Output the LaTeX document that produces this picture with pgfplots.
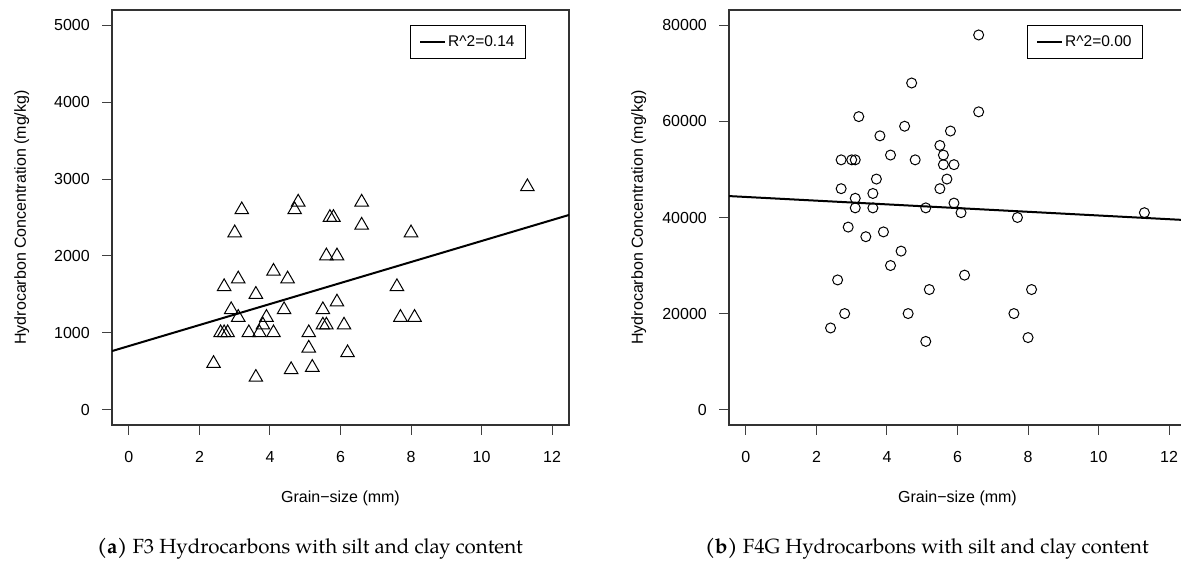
\documentclass[border=0pt]{standalone}
\usepackage{pgfplots}
\pgfplotsset{compat=1.18}
\usepackage{fontspec}
\setmainfont{Liberation Sans}
\newfontfamily\capfont{TeX Gyre Pagella}
\begin{document}
\begin{tikzpicture}
\path[use as bounding box] (0pt,0pt) rectangle (1181pt,562pt);
\pgfplotsset{
  rstyle/.style={
    scale only axis, width=457pt, height=415pt, anchor=south west,
    xmin=-0.48, xmax=12.48,
    xtick={0,2,4,6,8,10,12},
    tick pos=left, tick align=outside, major tick length=10pt,
    axis line style={line width=1.1pt, black!80},
    every tick/.style={line width=1pt, black!75},
    scaled ticks=false,
    /pgf/number format/assume math mode=true,
    tick label style={font=\fontsize{16}{19}\selectfont},
    xticklabel style={inner sep=0pt, anchor=north, yshift=-16pt},
    yticklabel style={inner sep=0pt, anchor=east, xshift=-12pt},
    label style={font=\fontsize{16}{19}\selectfont},
    xlabel={Grain−size (mm)},
    ylabel={Hydrocarbon Concentration (mg/kg)},
    xlabel style={at={(axis description cs:0.5,-0.1759)}, anchor=center},
    ylabel style={at={(axis description cs:-0.1976,0.5)}, anchor=center},
    legend style={at={(axis description cs:0.9059,0.9639)}, anchor=north east,
      draw=black, line width=0.9pt, inner xsep=9pt, inner ysep=8.5pt,
      font=\fontsize{15.5}{18}\selectfont},
    legend image code/.code={\draw[line width=2pt] (0pt,0pt) -- (25pt,0pt);},
    legend cell align=left,
  }
}
\begin{axis}[rstyle, at={(112pt,137pt)},
  ymin=-200, ymax=5200, ytick={0,1000,2000,3000,4000,5000},
  yticklabels={0,1000,2000,3000,4000,5000}]
\addplot[only marks, mark=triangle, mark size=7.8pt, mark options={line width=1pt, black}, forget plot] coordinates {
(2.4,600) (2.6,1000) (2.7,1000) (2.8,1000) (2.7,1600) (2.9,1300) (3.0,2300)
(3.1,1700) (3.1,1200) (3.2,2600) (3.4,1000) (3.6,1500) (3.6,420) (3.7,1000)
(3.8,1100) (3.9,1200) (4.1,1800) (4.1,1000) (4.4,1300) (4.5,1700) (4.6,520)
(4.7,2600) (4.8,2700) (5.1,1000) (5.1,800) (5.2,550) (5.5,1300) (5.5,1100)
(5.6,1100) (5.6,2000) (5.7,2500) (5.8,2500) (5.9,2000) (5.9,1400) (6.1,1100)
(6.2,740) (6.6,2700) (6.6,2400) (7.6,1600) (7.7,1200) (8.0,2300) (8.1,1200)
(11.3,2900)};
\addplot[black, line width=2pt, no marks] coordinates {(-0.48,762) (12.48,2533)};
\addlegendentry{R\^{}2=0.14}
\end{axis}
\begin{axis}[rstyle, at={(729pt,137pt)},
  ymin=-3200, ymax=83200, ytick={0,20000,40000,60000,80000},
  yticklabels={0,20000,40000,60000,80000}]
\addplot[only marks, mark=o, mark size=5pt, mark options={line width=1pt, black}, forget plot] coordinates {
(2.4,17000) (2.6,27000) (2.7,52000) (2.7,46000) (2.8,20000) (2.9,38000)
(3.0,52000) (3.1,52000) (3.1,44000) (3.1,42000) (3.2,61000) (3.4,36000)
(3.6,45000) (3.6,42000) (3.7,48000) (3.8,57000) (3.9,37000) (4.1,53000)
(4.1,30000) (4.4,33000) (4.5,59000) (4.6,20000) (4.7,68000) (4.8,52000)
(5.1,42000) (5.1,14200) (5.2,25000) (5.5,55000) (5.5,46000) (5.6,53000)
(5.6,51000) (5.7,48000) (5.8,58000) (5.9,51000) (5.9,43000) (6.1,41000)
(6.2,28000) (6.6,78000) (6.6,62000) (7.6,20000) (7.7,40000) (8.0,15000)
(8.1,25000) (11.3,41000)};
\addplot[black, line width=2pt, no marks] coordinates {(-0.48,44460) (12.48,39458)};
\addlegendentry{R\^{}2=0.00}
\end{axis}
\node[font=\capfont\fontsize{20.5}{24}\selectfont, anchor=center] at (310pt,13pt) {\textbf{(a)} F3 Hydrocarbons with silt and clay content};
\node[font=\capfont\fontsize{20.5}{24}\selectfont, anchor=center] at (927pt,13pt) {\textbf{(b)} F4G Hydrocarbons with silt and clay content};
\end{tikzpicture}
\end{document}
